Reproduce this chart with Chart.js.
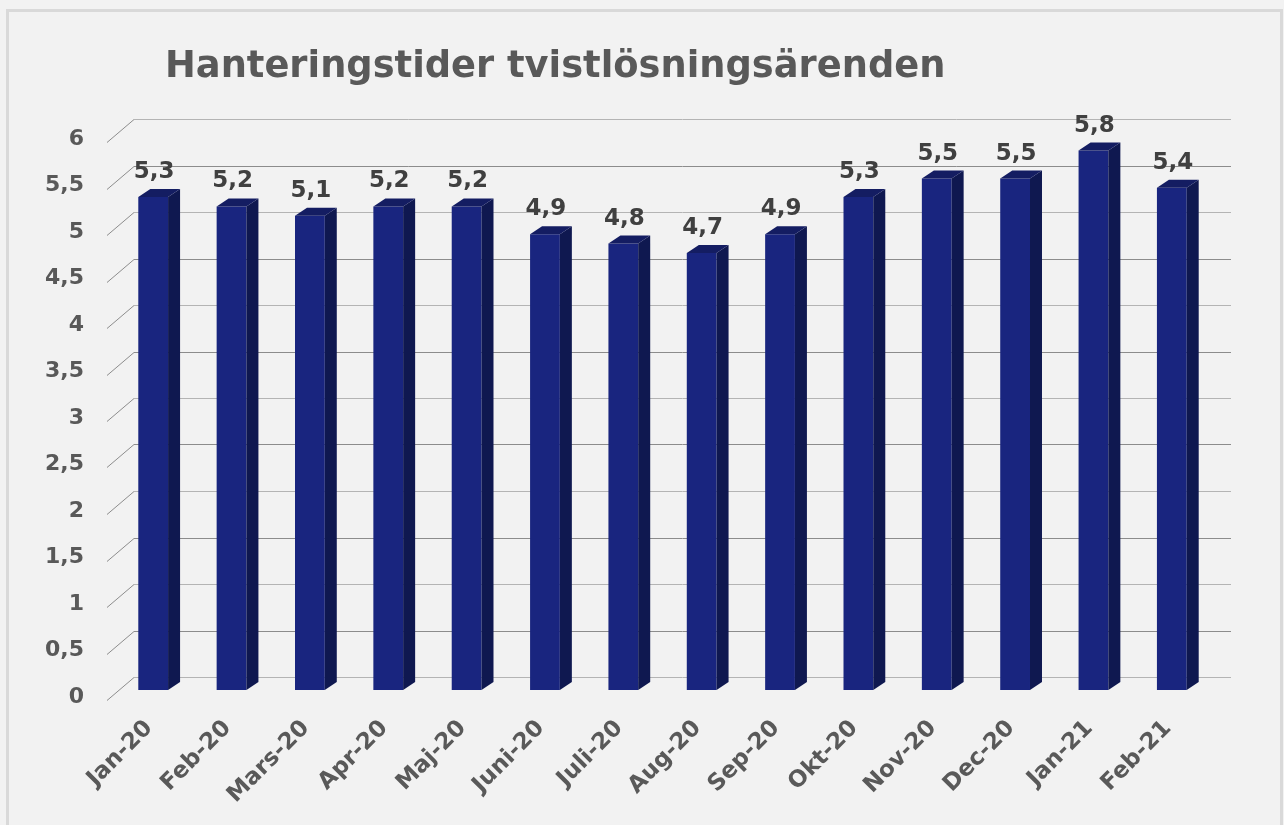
<!DOCTYPE html>
<html>
<head>
<meta charset="utf-8">
<script src="https://cdn.jsdelivr.net/npm/chart.js@4/dist/chart.umd.min.js"></script>
<style>
  html, body { margin: 0; padding: 0; background: #f2f2f2; }
  #frame { position: absolute; left: 6px; top: 9px; width: 1271px; height: 830px;
           border: 3px solid #d9d9d9; border-bottom: none; }
  #title { position: absolute; left: 165px; top: 46px; font: bold 36.8px "DejaVu Sans";
           line-height: 37px; color: #595959; white-space: nowrap; }
  #wrap { position: absolute; left: 0; top: 0; width: 1284px; height: 825px; }
</style>
</head>
<body>
<div id="frame"></div>
<div id="wrap"><canvas id="myChart"></canvas></div>
<div id="title">Hanteringstider tvistlösningsärenden</div>
<script>
const months = ['Jan-20', 'Feb-20', 'Mars-20', 'Apr-20', 'Maj-20', 'Juni-20', 'Juli-20',
                'Aug-20', 'Sep-20', 'Okt-20', 'Nov-20', 'Dec-20', 'Jan-21', 'Feb-21'];
const tider = [5.3, 5.2, 5.1, 5.2, 5.2, 4.9, 4.8, 4.7, 4.9, 5.3, 5.5, 5.5, 5.8, 5.4];

const DX = 12, DY = 8;        // djup på staplarna
const WX = 20, WY = 13;       // bakre väggen
const komma = v => String(v).replace('.', ',');

// rutnät med perspektiv
const rutnat = {
  id: 'rutnat',
  beforeDatasetsDraw(chart) {
    const c = chart.ctx, y = chart.scales.y, a = chart.chartArea;
    c.save();
    c.lineWidth = 1;
    y.ticks.forEach((t, i) => {
      const py = Math.round(y.getPixelForValue(t.value)) + 0.5;
      c.strokeStyle = i % 2 === 0 ? '#b4b4b4' : '#8c8c8c';
      c.beginPath();
      c.moveTo(a.left + WX, py - WY);
      c.lineTo(a.right + WX, py - WY);
      c.stroke();
      c.strokeStyle = '#8c8c8c';
      c.beginPath();
      c.moveTo(a.left - 7, py + 10);
      c.lineTo(a.left + WX, py - WY);
      c.stroke();
    });
    c.restore();
  },
  afterDatasetsDraw(chart) {
    const c = chart.ctx;
    const meta = chart.getDatasetMeta(0);
    c.save();
    meta.data.forEach((bar, i) => {
      const w = bar.width / 2, x = bar.x, top = bar.y, base = bar.base;
      c.fillStyle = '#0f1850';
      c.beginPath();
      c.moveTo(x + w, top);
      c.lineTo(x + w + DX, top - DY);
      c.lineTo(x + w + DX, base - DY);
      c.lineTo(x + w, base);
      c.closePath();
      c.fill();
      c.fillStyle = '#141d62';
      c.beginPath();
      c.moveTo(x - w, top);
      c.lineTo(x - w + DX, top - DY);
      c.lineTo(x + w + DX, top - DY);
      c.lineTo(x + w, top);
      c.closePath();
      c.fill();
      c.fillStyle = '#404040';
      c.font = 'bold 23px "DejaVu Sans"';
      c.textAlign = 'center';
      c.textBaseline = 'alphabetic';
      c.fillText(komma(tider[i]), x + 1, top - 19);
    });
    c.restore();
  }
};

var ctx = document.getElementById('myChart').getContext('2d');
var myChart = new Chart(ctx, {
  type: 'bar',
  data: {
    labels: months,
    datasets: [{
      label: 'Hanteringstider',
      data: tider,
      backgroundColor: '#19257f',
      borderWidth: 0,
      categoryPercentage: 1,
      barPercentage: 0.38
    }]
  },
  options: {
    responsive: true,
    maintainAspectRatio: false,
    animation: false,
    layout: { padding: { left: 10, right: 73, top: 132, bottom: 15 } },
    plugins: { legend: { display: false }, title: { display: false }, tooltip: { enabled: false } },
    scales: {
      y: {
        min: 0, max: 6,
        grid: { display: false, drawTicks: false },
        border: { display: false },
        afterFit: s => { s.width = 104; },
        ticks: {
          stepSize: 0.5,
          padding: 30,
          labelOffset: 7,
          color: '#595959',
          font: { family: 'DejaVu Sans', size: 22, weight: 'bold' },
          callback: v => komma(v)
        }
      },
      x: {
        grid: { display: false, drawTicks: false },
        border: { display: false },
        afterFit: s => { s.height = 120; },
        ticks: {
          minRotation: 45, maxRotation: 45,
          padding: 25,
          labelOffset: -4,
          autoSkip: false,
          color: '#595959',
          font: { family: 'DejaVu Sans', size: 23, weight: 'bold' }
        }
      }
    }
  },
  plugins: [rutnat]
});
</script>
</body>
</html>
